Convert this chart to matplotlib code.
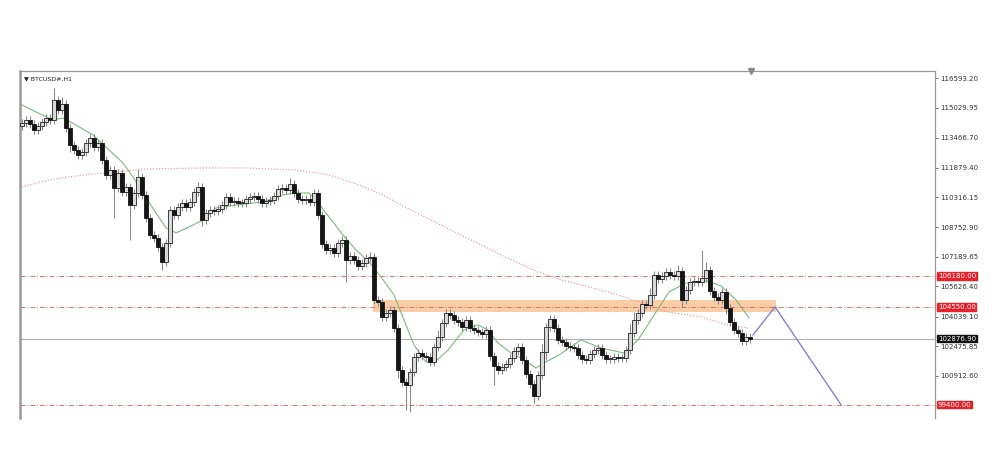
import matplotlib.pyplot as plt
import numpy as np

# H1 closes (one per candle, left to right)
closes = [
    114240, 114400, 114190, 113870, 114080, 114290, 114500, 114400, 115450, 114920,
    115240, 113980, 113080, 112820, 112550, 112710, 113190, 113450, 112970, 113190,
    112290, 111500, 111760, 110820, 111610, 110600, 110870, 109920, 110550, 111390,
    110450, 109240, 108340, 108180, 107710, 106920, 107920, 109660, 109390, 109810,
    110030, 109810, 110080, 110600, 110870, 109130, 109500, 109660, 109600, 109710,
    109920, 110340, 110080, 110130, 110030, 110030, 110240, 110340, 110390, 110240,
    110030, 110130, 110180, 110390, 110760, 110820, 110710, 111030, 110550, 110240,
    110180, 110240, 110080, 110550, 109390, 107870, 107550, 107660, 107390, 107920,
    108080, 107020, 107230, 107020, 106710, 106870, 107130, 107180, 104920, 104810,
    104020, 104230, 104390, 103440, 101230, 100600, 100440, 101120, 101910, 102130,
    101970, 101910, 101650, 102440, 102970, 103710, 104230, 104130, 103860, 103760,
    103490, 103860, 103440, 103340, 103230, 103130, 103340, 101970, 101440, 101230,
    101390, 101550, 101860, 102230, 102440, 101760, 101020, 100490, 99860, 100970,
    102180, 103490, 103920, 103440, 102810, 102700, 102490, 102440, 102390, 102020,
    101810, 101760, 102070, 102280, 102390, 102020, 101810, 101810, 101910, 101860,
    101860, 102280, 103180, 103860, 104230, 104710, 104650, 105180, 106230, 106020,
    106180, 106390, 106230, 106180, 106440, 104920, 105440, 105860, 105920, 105860,
    106080, 106500, 105390, 105070, 104920, 105340, 104500, 103760, 103340, 103180,
    102760, 102970, 102876.9,
]
first_open = 114100
wick_default = 210
wick_up = {8: 630, 10: 350, 29: 400, 44: 260, 67: 300, 87: 250, 104: 350, 130: 400,
           152: 450, 153: 400, 157: 350, 164: 300, 170: 1470, 171: 400}
wick_dn = {12: 350, 23: 1590, 27: 1840, 35: 420, 45: 300, 81: 1160, 94: 450, 96: 1320,
           97: 1420, 118: 1000, 128: 370, 131: 450, 165: 350, 176: 300}

# moving averages (index, price)
ma_fast_idx = [0, 3.5, 7.75, 10.25, 13.5, 17.75, 21.75, 25.25, 27.75, 30.25, 33.5, 36,
               38.5, 41.75, 45.25, 48.5, 53.5, 60.25, 65.25, 68.5, 71.75, 73.5, 76.75,
               80.25, 83.5, 86.75, 89.75, 93, 95.5, 98, 101, 103, 106.5, 110.5, 114,
               116.5, 119, 122.25, 125.5, 128.5, 130.5, 134.25, 139.75, 144.75, 150.5,
               154, 158.5, 161.75, 166, 171, 174.75, 178.5, 181.75]
ma_fast = [115190, 114820, 114400, 114500, 114130, 113610, 112820, 112130, 111390, 110550,
           109500, 108710, 108450, 108760, 109130, 109760, 109920, 110080, 110450, 110550,
           110550, 110180, 109290, 108340, 107550, 106920, 106130, 105180, 103860, 102550,
           101650, 101600, 102280, 103340, 103600, 103340, 102650, 102120, 101760, 101330,
           101600, 102020, 102810, 102390, 102120, 102810, 104280, 105340, 105810, 105920,
           105660, 104920, 103970]
ma_slow_idx = [0, 6.75, 15.25, 23.5, 31.75, 46, 56, 68.5, 76.75, 83.5, 90.25, 94.75,
               107.25, 119.75, 129, 134.75, 144.75, 149, 157.25, 161.5, 169.75, 176.5, 181.5]
ma_slow = [110870, 111240, 111500, 111660, 111820, 111870, 111870, 111760, 111500, 111030,
           110450, 109920, 108600, 107290, 106390, 105970, 105440, 105180, 104600, 104280,
           104020, 103600, 103440]

levels = [106180.00, 104550.00, 99400.00]
bid = 102876.90
zone_low, zone_high = 104300, 104920
zone_start, zone_end = 87.75, 188.5
proj_idx = [182.75, 188.25, 204.75]
proj_price = [103073, 104550, 99400]

yticks = [116593.20, 115029.95, 113466.70, 111879.40, 110316.15, 108752.90,
          107189.65, 105626.40, 104039.10, 102475.85, 100912.60]

closes = np.array(closes, dtype=float)
opens = np.concatenate([[first_open], closes[:-1]])
n = len(closes)
up = np.array([wick_up.get(i, wick_default) for i in range(n)])
dn = np.array([wick_dn.get(i, wick_default) for i in range(n)])
highs = np.maximum(opens, closes) + up
lows = np.minimum(opens, closes) - dn
x = np.arange(n)

fig = plt.figure(figsize=(10, 4.61), dpi=100)
ax = fig.add_axes([0.02, 0.0933, 0.915, 0.7527])

ax.fill_between([zone_start, zone_end], zone_low, zone_high, color='#f9c597', alpha=0.85,
                lw=0, zorder=1)

for lv in levels:
    ax.axhline(lv, color='#ea6b6b', lw=0.7, ls=(0, (5, 2, 1, 2)), zorder=2)
ax.axhline(bid, color='#b0b0b0', lw=0.8, zorder=2)

ax.plot(ma_slow_idx, ma_slow, color='#ec8a8a', lw=0.8, ls=':', zorder=3)
ax.plot(ma_fast_idx, ma_fast, color='#7fb87f', lw=0.8, zorder=3)

ax.vlines(x, lows, highs, color='#8a8a8a', lw=0.8, zorder=4)
bull = closes >= opens
body_h = np.maximum(np.abs(closes - opens), 40)
ax.bar(x[bull], body_h[bull], bottom=np.minimum(opens, closes)[bull], width=0.85,
       color='#d8d8d8', edgecolor='#222222', lw=0.6, zorder=5)
ax.bar(x[~bull], body_h[~bull], bottom=np.minimum(opens, closes)[~bull], width=0.85,
       color='#151515', edgecolor='#151515', lw=0.6, zorder=5)

ax.plot(proj_idx, proj_price, color='#7f83d2', lw=1.0, zorder=6)

ax.set_xlim(-0.5, 228.25)
ax.set_ylim(98700, 116977)

ax.yaxis.tick_right()
ax.set_yticks(yticks)
ax.set_yticklabels([f"{v:.2f}" for v in yticks])
ax.tick_params(axis='y', labelsize=5, length=2.5, width=0.5, pad=1.5, colors='#333333')
ax.set_xticks([])
for side in ['top', 'left', 'right']:
    ax.spines[side].set_color('#999999')
    ax.spines[side].set_linewidth(0.9)
ax.spines['left'].set_linewidth(1.8)
ax.spines['bottom'].set_visible(False)

for lv in levels:
    ax.text(1.003, lv, f"{lv:.2f}", transform=ax.get_yaxis_transform(), fontsize=5,
            color='white', va='center', ha='left',
            bbox=dict(boxstyle='square,pad=0.1', fc='#e8202a', ec='#e8202a'))
ax.text(1.003, bid, f"{bid:.2f}", transform=ax.get_yaxis_transform(), fontsize=5,
        color='white', va='center', ha='left',
        bbox=dict(boxstyle='square,pad=0.1', fc='#111111', ec='#111111'))

ax.text(0.004, 0.985, "▼ BTCUSD#,H1", transform=ax.transAxes, fontsize=4.5,
        color='#222222', va='top', ha='left')
ax.plot([182.3], [116977], marker='v', color='#888888', markersize=4, clip_on=False,
        zorder=7)

fig.savefig("out.png", dpi=100, facecolor='white')
